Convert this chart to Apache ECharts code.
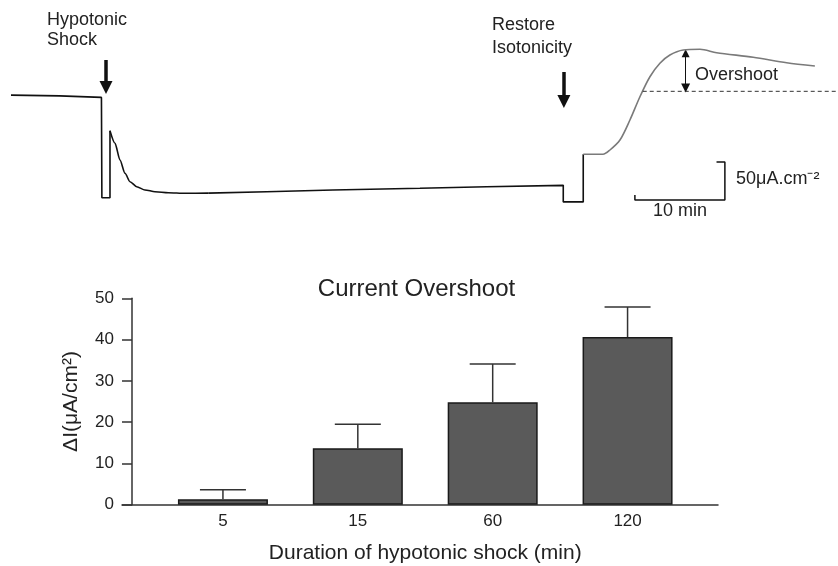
<!DOCTYPE html>
<html lang="en">
<head>
<meta charset="UTF-8">
<title>Current overshoot</title>
<script src="https://cdn.jsdelivr.net/npm/echarts@6/dist/echarts.min.js"></script>
<style>
  html, body { margin: 0; padding: 0; background: #fff; }
  #main { width: 838px; height: 566px; }
</style>
</head>
<body>
<div id="main"></div>
<script type="text/javascript">
// top trace: time in min, current in uA/cm2 (arbitrary origin)
var shockTime = [0, 5.4, 10.05, 10.1, 11.0, 11.0];
var shockCurrent = [138, 137, 135, 3, 3, 91.2];
var decayTime = [11.0, 11.56, 12.11, 12.67, 13.22, 13.97, 14.89, 16.0, 17.48, 19.33, 21.92];
var decayCurrent = [91.2, 74.6, 52.6, 35.1, 24.1, 17.5, 13.2, 10.9, 9.6, 8.8, 9.0];
var plateauTime = [21.92, 28.41, 35.78, 45.44, 52.86, 61.37, 61.37, 63.59, 63.59];
var plateauCurrent = [9.0, 10.9, 13.2, 15.4, 17.5, 19.3, -2.5, -2.5, 60.1];
var recoveryTime = [63.59, 65.78, 66.56, 67.67, 68.78, 69.89, 71.0, 72.11, 73.22, 74.7, 76.56, 78.41, 82.48, 86.19, 89.33];
var recoveryCurrent = [60.1, 60.1, 65.8, 78.9, 105.3, 135.9, 162.2, 179.9, 190.8, 197.4, 198.3, 193.8, 187.8, 180.7, 176.3];
var steadyLevel = 143;
var scaleBar = [[78.4, 50], [79.33, 50], [79.33, 0], [69.33, 0], [69.33, 6.6]];

// bottom bar chart
var categories = ['5', '15', '60', '120'];
var overshootMean = [1.3, 13.7, 24.8, 40.6];
var overshootSem = [2.3, 5.8, 9.3, 7.3];

var myChart = echarts.init(document.getElementById('main'));
var font = '"Liberation Sans", Arial, sans-serif';
var ink = '#222';

function zip(xs, ys) {
  var out = [];
  for (var i = 0; i < xs.length; i++) out.push([xs[i], ys[i]]);
  return out;
}

var errData = [];
for (var i = 0; i < categories.length; i++) {
  errData.push([i, overshootMean[i], overshootMean[i] + overshootSem[i]]);
}

function txt(s, x, y, size) {
  return {
    type: 'text', x: x, y: y,
    style: { text: s, font: (size || 18) + 'px ' + font, fill: ink, textVerticalAlign: 'middle' }
  };
}

function trace(data, color, smooth, mono) {
  var s = {
    type: 'line', xAxisIndex: 0, yAxisIndex: 0, data: data,
    symbol: 'none', smooth: smooth || false,
    clip: false, lineStyle: { color: color, width: 1.6 }
  };
  if (mono) s.smoothMonotone = 'x';
  return s;
}

var option = {
  backgroundColor: '#fff',
  animation: false,
  title: {
    text: 'Current Overshoot',
    left: 411.5, top: 272, textAlign: 'center',
    textStyle: { fontFamily: font, fontSize: 24, fontWeight: 'normal', color: ink }
  },
  grid: [
    { left: 11, width: 827, top: 17.6, height: 212.8 },
    { left: 155.5, right: 143, top: 298.3, bottom: 61.3 },
    { left: 122, right: 120, top: 298.3, bottom: 61.3 }
  ],
  xAxis: [
    { gridIndex: 0, type: 'value', min: 0, max: 91.9, show: false },
    {
      gridIndex: 1, type: 'category', data: categories,
      axisLine: { show: false }, axisTick: { show: false },
      axisLabel: { margin: 8, fontFamily: font, fontSize: 17, color: ink },
      name: 'Duration of hypotonic shock (min)', nameLocation: 'middle', nameGap: 38,
      nameTextStyle: { fontFamily: font, fontSize: 21, color: ink }
    },
    {
      gridIndex: 2, type: 'value', min: 0, max: 1,
      axisLine: { show: true, lineStyle: { color: '#333', width: 1.5 } },
      axisTick: { show: false }, axisLabel: { show: false }, splitLine: { show: false }
    }
  ],
  yAxis: [
    { gridIndex: 0, type: 'value', min: -40, max: 240, show: false },
    {
      gridIndex: 1, type: 'value', min: 0, max: 50, interval: 10, offset: 23.5,
      axisLine: { show: true, lineStyle: { color: '#333', width: 1.5 } },
      axisTick: { show: true, length: 10, lineStyle: { color: '#333', width: 1.5 } },
      axisLabel: { margin: 18, fontFamily: font, fontSize: 17, color: ink },
      splitLine: { show: false },
      name: 'ΔI(μA/cm²)', nameLocation: 'middle', nameGap: 50, nameRotate: 90,
      nameTextStyle: { fontFamily: font, fontSize: 21, color: ink }
    },
    { gridIndex: 2, type: 'value', min: 0, max: 1, show: false }
  ],
  series: [
    trace(zip(shockTime, shockCurrent), '#111'),
    trace(zip(decayTime, decayCurrent), '#111', 0.25, true),
    trace(zip(plateauTime, plateauCurrent), '#111'),
    trace(zip(recoveryTime, recoveryCurrent), '#7a7a7a', 0.3),
    {
      type: 'line', xAxisIndex: 0, yAxisIndex: 0, data: [[70.2, steadyLevel], [91.9, steadyLevel]],
      symbol: 'none', clip: false, lineStyle: { color: '#333', width: 1, type: [4, 3] }
    },
    {
      type: 'line', xAxisIndex: 0, yAxisIndex: 0, data: scaleBar,
      symbol: 'none', clip: false, lineStyle: { color: '#111', width: 1.5 }
    },
    {
      type: 'lines', coordinateSystem: 'cartesian2d', xAxisIndex: 0, yAxisIndex: 0,
      symbol: ['none', 'triangle'], symbolSize: [12, 13],
      lineStyle: { color: '#111', width: 3.5, opacity: 1 },
      data: [
        { coords: [[10.56, 184.2], [10.56, 148]] },
        { coords: [[61.44, 168.4], [61.44, 129.5]] }
      ]
    },
    {
      type: 'lines', coordinateSystem: 'cartesian2d', xAxisIndex: 0, yAxisIndex: 0,
      symbol: ['triangle', 'triangle'], symbolSize: [8, 9],
      lineStyle: { color: '#111', width: 1, opacity: 1 },
      data: [{ coords: [[74.97, 193], [74.97, 147.5]] }]
    },
    {
      type: 'bar', xAxisIndex: 1, yAxisIndex: 1, data: overshootMean, barWidth: 90,
      itemStyle: { color: '#5a5a5a', borderColor: '#1a1a1a', borderWidth: 1.5 }
    },
    {
      type: 'custom', xAxisIndex: 1, yAxisIndex: 1, data: errData, z: 3,
      renderItem: function (params, api) {
        var base = api.coord([api.value(0), api.value(1)]);
        var top = api.coord([api.value(0), api.value(2)]);
        var st = { stroke: '#333', lineWidth: 1.5 };
        return {
          type: 'group',
          children: [
            { type: 'line', shape: { x1: base[0], y1: base[1], x2: top[0], y2: top[1] }, style: st },
            { type: 'line', shape: { x1: top[0] - 23, y1: top[1], x2: top[0] + 23, y2: top[1] }, style: st }
          ]
        };
      }
    }
  ],
  graphic: [
    txt('Hypotonic', 47, 19.7),
    txt('Shock', 47, 39.7),
    txt('Restore', 492, 25.5),
    txt('Isotonicity', 492, 48),
    txt('Overshoot', 695, 74.7),
    txt('50μA.cm⁻²', 736, 178.7),
    txt('10 min', 653, 211.5)
  ]
};

myChart.setOption(option);
</script>
</body>
</html>
